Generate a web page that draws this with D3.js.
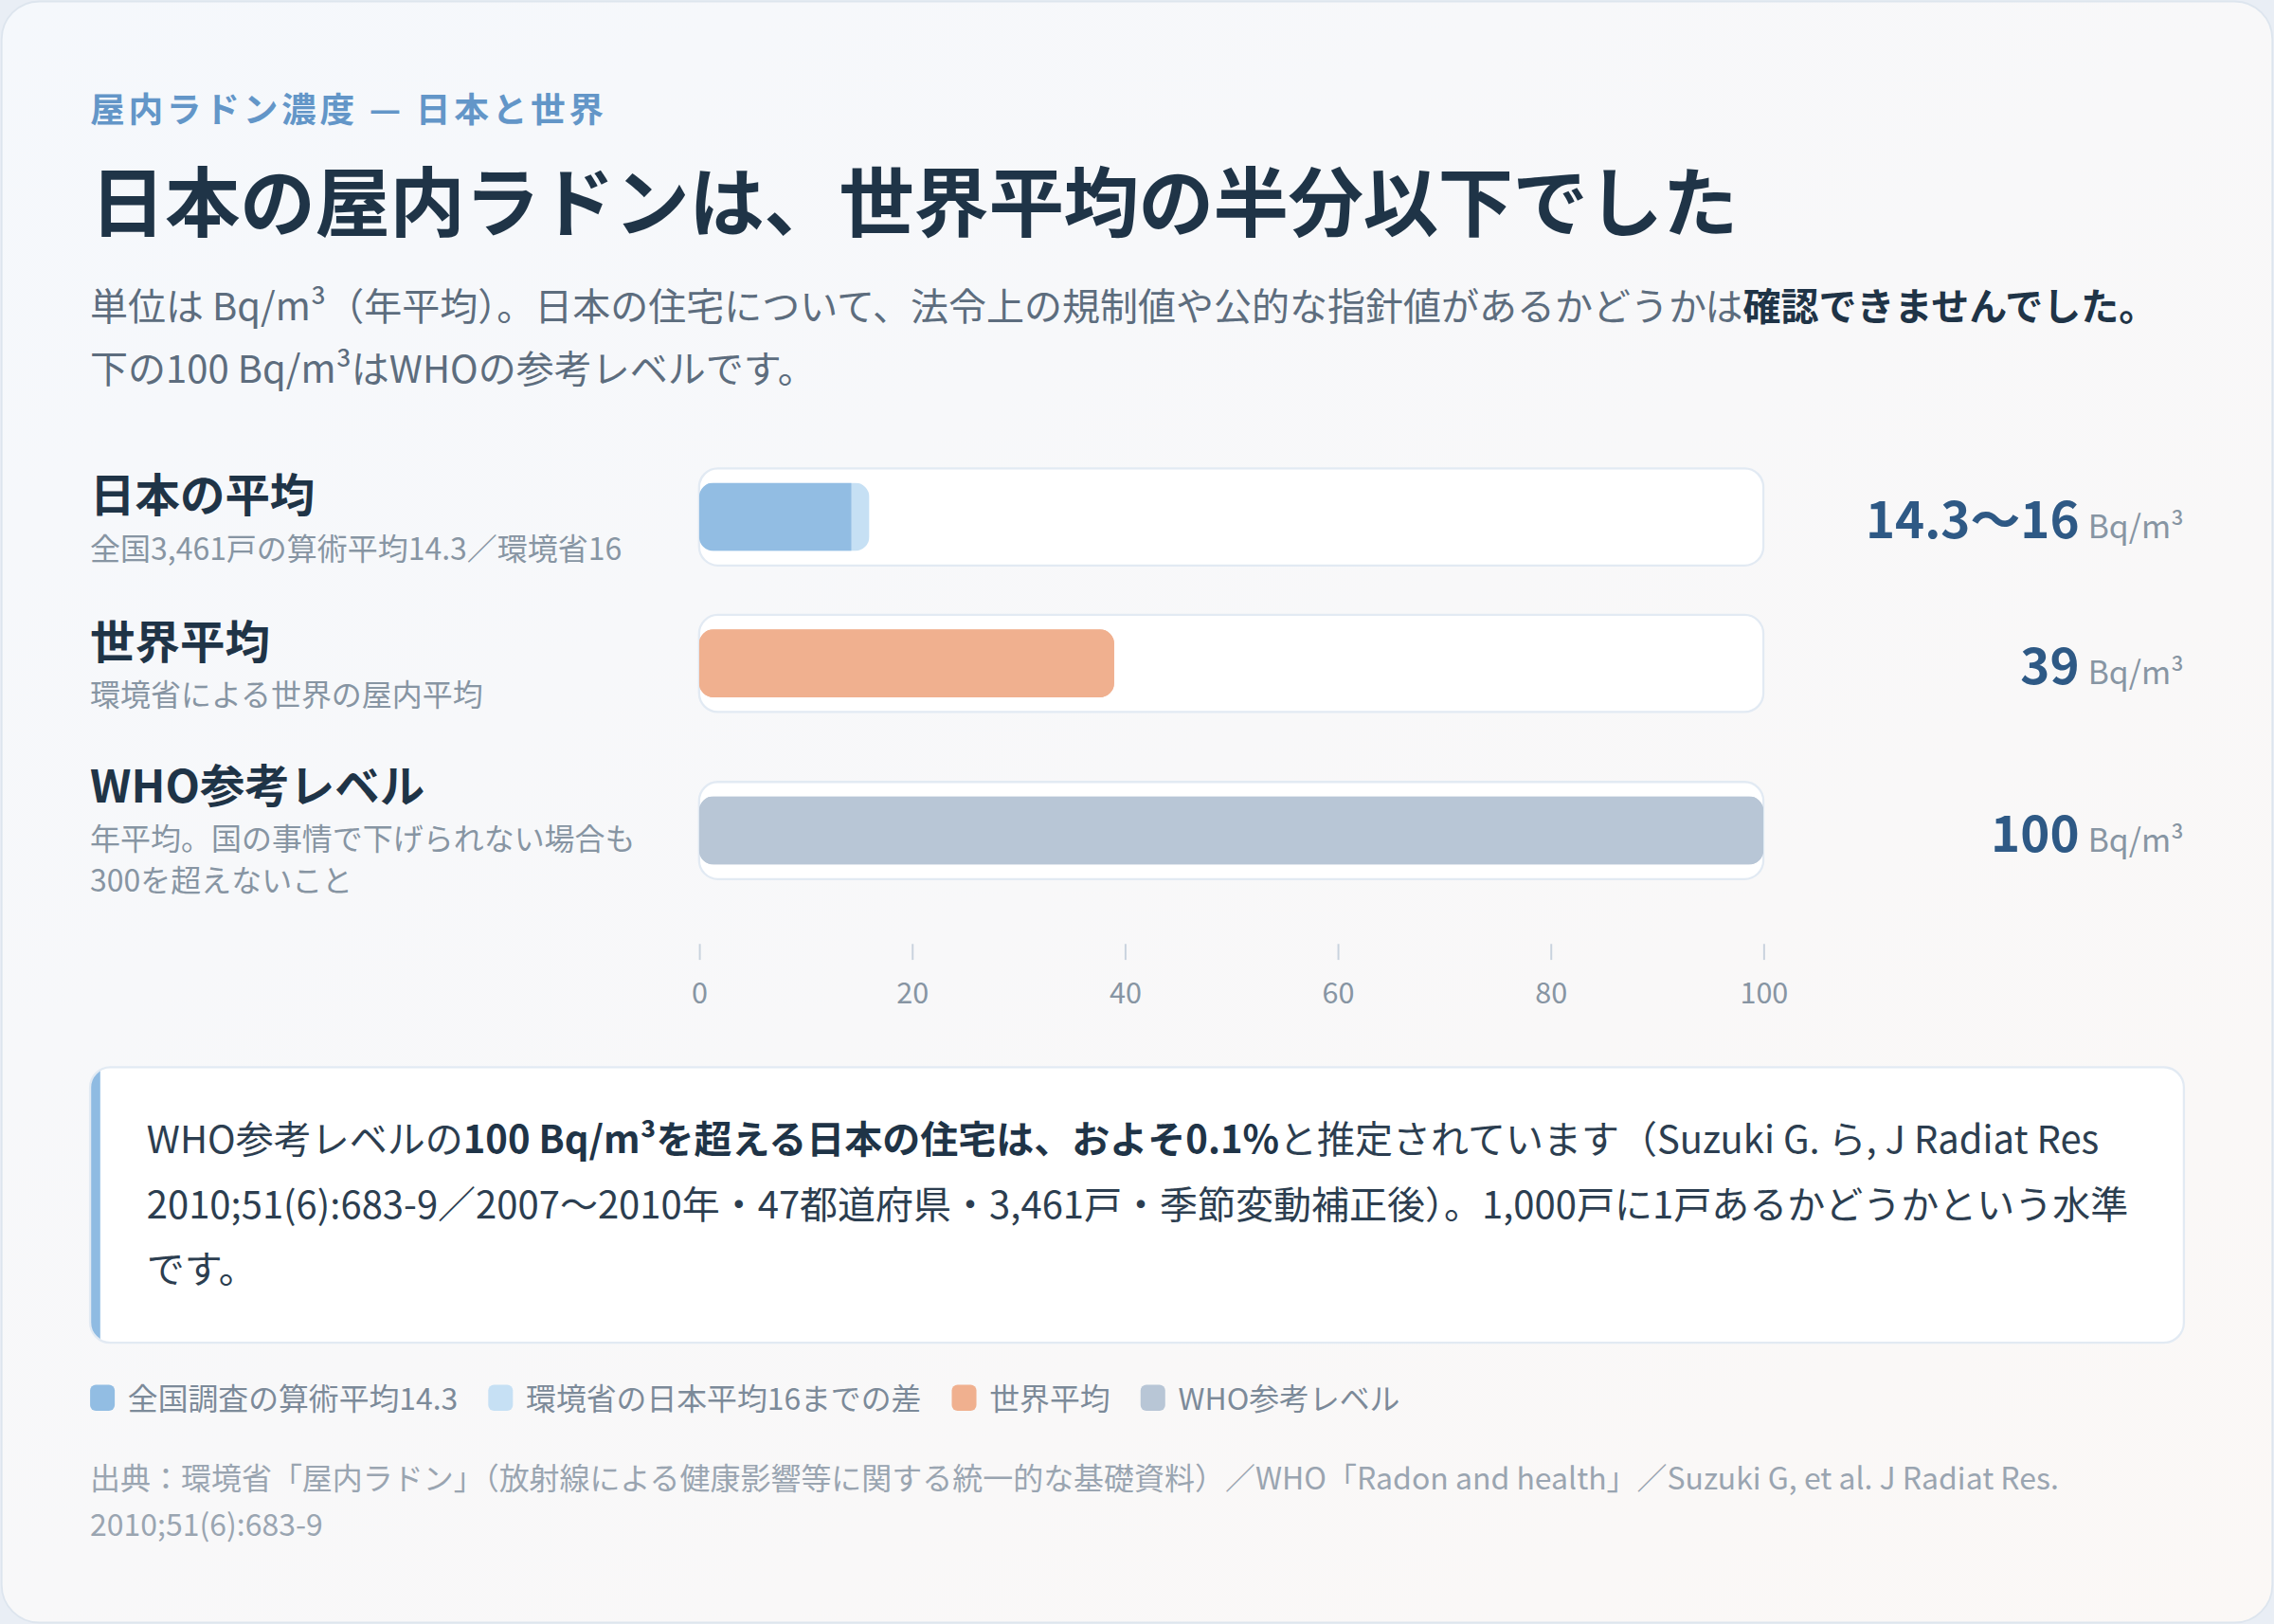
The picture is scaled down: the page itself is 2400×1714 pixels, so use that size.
<!DOCTYPE html>
<meta charset="utf-8">
<style>
html,body{margin:0;padding:0;background:#e9eef5;}
svg{display:block;font-family:"Noto Sans CJK JP","Noto Sans",sans-serif;}
</style>
<svg id="chart" width="2400" height="1714" viewBox="0 0 1568 1120"></svg>
<script src="https://cdnjs.cloudflare.com/ajax/libs/d3/7.8.5/d3.min.js"></script>
<script>
// --- data ---
var categories = ["日本の平均", "世界平均", "WHO参考レベル"];
var subLabels = [
  ["全国3,461戸の算術平均14.3／環境省16"],
  ["環境省による世界の屋内平均"],
  ["年平均。国の事情で下げられない場合も", "300を超えないこと"]
];
var lowValues = [14.3, 39, 100];   // survey mean / world / WHO
var highValues = [16, 39, 100];    // MoE figure (upper end)
var valueLabels = ["14.3〜16", "39", "100"];
var tickValues = [0, 20, 40, 60, 80, 100];
var legendLabels = ["全国調査の算術平均14.3", "環境省の日本平均16までの差", "世界平均", "WHO参考レベル"];

var lowColors = ["#92bde3", "#f0b08f", "#b8c6d6"];
var highColors = ["#c6e0f4", "#f0b08f", "#b8c6d6"];
var legendColors = ["#92bde3", "#c6e0f4", "#f0b08f", "#b8c6d6"];

var svg = d3.select("#chart");
var defs = svg.append("defs");

var grad = defs.append("linearGradient").attr("id", "cardbg")
  .attr("x1", "0").attr("y1", "0").attr("x2", "1").attr("y2", "1");
grad.append("stop").attr("offset", "0").attr("stop-color", "#f5f8fc");
grad.append("stop").attr("offset", "1").attr("stop-color", "#fbf8f6");

// card
svg.append("rect").attr("x", 1).attr("y", 1).attr("width", 1566).attr("height", 1118)
  .attr("rx", 26).attr("fill", "url(#cardbg)").attr("stroke", "#dde5ee").attr("stroke-width", 1.2);

// header
svg.append("text").attr("x", 62).attr("y", 84)
  .attr("font-size", 24).attr("font-weight", 700).attr("fill", "#6396c8")
  .attr("letter-spacing", 2.4)
  .text("屋内ラドン濃度 — 日本と世界");

svg.append("text").attr("x", 62).attr("y", 159)
  .attr("font-size", 52).attr("font-weight", 700).attr("fill", "#1f3447")
  .attr("letter-spacing", -0.35)
  .text("日本の屋内ラドンは、世界平均の半分以下でした");

var sub1 = svg.append("text").attr("x", 62).attr("y", 221).attr("font-size", 26.15).attr("fill", "#5d6d7e");
sub1.append("tspan").text("単位は Bq/m³（年平均）。日本の住宅について、法令上の規制値や公的な指針値があるかどうかは");
sub1.append("tspan").attr("font-weight", 700).attr("fill", "#1f3447").text("確認できませんでした。");
svg.append("text").attr("x", 62).attr("y", 264).attr("font-size", 26.15).attr("fill", "#5d6d7e")
  .text("下の100 Bq/m³はWHOの参考レベルです。");

// bars
var x = d3.scaleLinear().domain([0, 100]).range([482, 1216]);

var trackH = 67, subLH = 28.5, rowGap = 34, barInset = 10;
var rows = [];
var yTop = 323;
categories.forEach(function(c, i) {
  var h = trackH + subLH * (subLabels[i].length - 1);
  rows.push({name: c, subs: subLabels[i], low: lowValues[i], high: highValues[i],
    label: valueLabels[i], i: i, top: yTop, center: yTop + h / 2});
  yTop += h + rowGap;
});

var row = svg.selectAll(".row").data(rows).enter().append("g").attr("class", "row");

row.append("text")
  .attr("x", 62)
  .attr("y", function(d) { return d.center - 3.5 - (d.subs.length - 1) * 16; })
  .attr("font-size", 31).attr("font-weight", 700).attr("fill", "#1f3447")
  .text(function(d) { return d.name; });

row.each(function(d) {
  var g = d3.select(this);
  var base = d.center - 3.5 - (d.subs.length - 1) * 16;
  d.subs.forEach(function(s, k) {
    g.append("text").attr("x", 62).attr("y", base + 33 + k * subLH)
      .attr("font-size", 20.9).attr("fill", "#8795a3").text(s);
  });
});

// track
row.append("rect")
  .attr("x", x(0))
  .attr("y", function(d) { return d.center - trackH / 2; })
  .attr("width", x(100) - x(0))
  .attr("height", trackH)
  .attr("rx", 13)
  .attr("fill", "#ffffff").attr("stroke", "#e2eaf3").attr("stroke-width", 1.5);

// bar clip (rounded shape up to the high value)
row.each(function(d) {
  defs.append("clipPath").attr("id", "clip" + d.i)
    .append("rect")
    .attr("x", x(0))
    .attr("y", d.center - trackH / 2 + barInset)
    .attr("width", x(d.high) - x(0))
    .attr("height", trackH - 2 * barInset)
    .attr("rx", 10);
});

var bars = row.append("g").attr("clip-path", function(d) { return "url(#clip" + d.i + ")"; });
bars.append("rect")
  .attr("x", x(0))
  .attr("y", function(d) { return d.center - trackH / 2 + barInset; })
  .attr("width", function(d) { return x(d.high) - x(0); })
  .attr("height", trackH - 2 * barInset)
  .attr("fill", function(d) { return highColors[d.i]; });
bars.append("rect")
  .attr("x", x(0))
  .attr("y", function(d) { return d.center - trackH / 2 + barInset; })
  .attr("width", function(d) { return x(d.low) - x(0); })
  .attr("height", trackH - 2 * barInset)
  .attr("fill", function(d) { return lowColors[d.i]; });

// value labels
var vt = row.append("text")
  .attr("x", 1506)
  .attr("y", function(d) { return d.center + 14.5; })
  .attr("text-anchor", "end");
vt.append("tspan").attr("font-size", 34.5).attr("font-weight", 700).attr("fill", "#2e5985")
  .text(function(d) { return d.label; });
vt.append("tspan").attr("font-size", 22).attr("fill", "#8795a3").attr("dx", 6).text("Bq/m³");

// axis
var axis = svg.append("g").attr("transform", "translate(0,651)")
  .call(d3.axisBottom(x).tickValues(tickValues).tickSize(11).tickPadding(16));
axis.select(".domain").remove();
axis.selectAll(".tick line").attr("stroke", "#c9d3de").attr("stroke-width", 1.3);
axis.selectAll(".tick text").attr("fill", "#8795a3").attr("font-size", 20)
  .attr("font-family", "Noto Sans CJK JP");

// note box
var nb = {x: 62, y: 736, w: 1444, h: 190};
defs.append("clipPath").attr("id", "noteclip").append("rect")
  .attr("x", nb.x).attr("y", nb.y).attr("width", nb.w).attr("height", nb.h).attr("rx", 14);
svg.append("rect").attr("x", nb.x).attr("y", nb.y).attr("width", nb.w).attr("height", nb.h)
  .attr("rx", 14).attr("fill", "#ffffff");
svg.append("rect").attr("x", nb.x).attr("y", nb.y).attr("width", 7).attr("height", nb.h)
  .attr("fill", "#8fbbe2").attr("clip-path", "url(#noteclip)");
svg.append("rect").attr("x", nb.x).attr("y", nb.y).attr("width", nb.w).attr("height", nb.h)
  .attr("rx", 14).attr("fill", "none").attr("stroke", "#e2eaf3").attr("stroke-width", 1.5);

var n1 = svg.append("text").attr("x", 101).attr("y", 795).attr("font-size", 26.15).attr("fill", "#2c3e50");
n1.append("tspan").text("WHO参考レベルの");
n1.append("tspan").attr("font-weight", 700).attr("fill", "#1f3447").text("100 Bq/m³を超える日本の住宅は、およそ0.1%");
n1.append("tspan").text("と推定されています（Suzuki G. ら, J Radiat Res");
svg.append("text").attr("x", 101).attr("y", 840).attr("font-size", 26.15).attr("fill", "#2c3e50")
  .text("2010;51(6):683-9／2007〜2010年・47都道府県・3,461戸・季節変動補正後）。1,000戸に1戸あるかどうかという水準");
svg.append("text").attr("x", 101).attr("y", 885).attr("font-size", 26.15).attr("fill", "#2c3e50")
  .text("です。");

// legend
var lx = 62;
legendLabels.forEach(function(l, i) {
  svg.append("rect").attr("x", lx).attr("y", 955).attr("width", 17).attr("height", 18)
    .attr("rx", 4).attr("fill", legendColors[i]);
  var t = svg.append("text").attr("x", lx + 26).attr("y", 972)
    .attr("font-size", 20.8).attr("fill", "#7c8a99").text(l);
  lx += 26 + t.node().getComputedTextLength() + 21;
});

// source
svg.append("text").attr("x", 62).attr("y", 1027).attr("font-size", 20.9).attr("fill", "#9aa5b1")
  .text("出典：環境省「屋内ラドン」（放射線による健康影響等に関する統一的な基礎資料）／WHO「Radon and health」／Suzuki G, et al. J Radiat Res.");
svg.append("text").attr("x", 62).attr("y", 1059).attr("font-size", 20.9).attr("fill", "#9aa5b1")
  .text("2010;51(6):683-9");
</script>
